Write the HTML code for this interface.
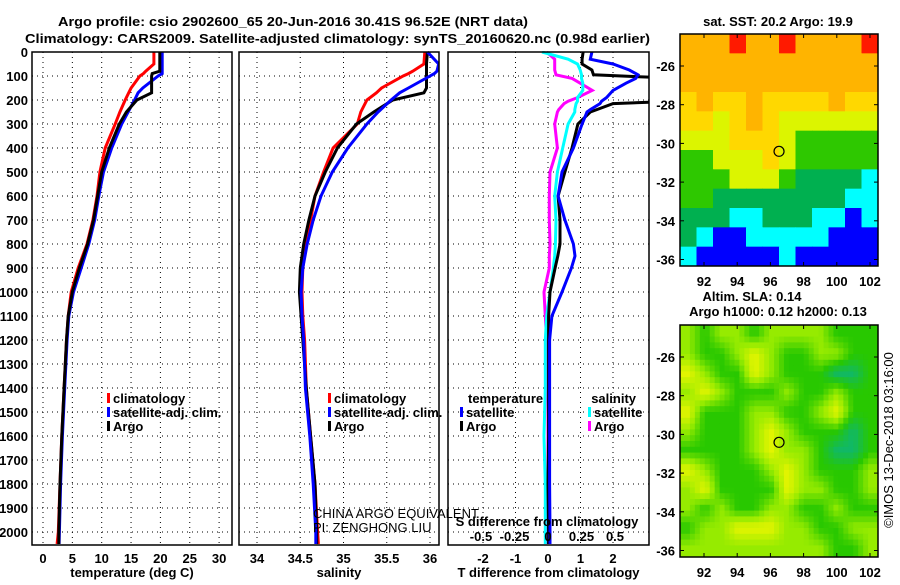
<!DOCTYPE html>
<html><head><meta charset="utf-8"><style>
body{margin:0;background:#fff;width:900px;height:580px;overflow:hidden}
svg text{font-family:"Liberation Sans",Arial,sans-serif;font-weight:bold;font-size:13px;fill:#000}
</style></head><body>
<svg id="s" width="900" height="580" xmlns="http://www.w3.org/2000/svg">
<text x="58" y="26" font-size="15.5" textLength="470" lengthAdjust="spacingAndGlyphs">Argo profile: csio 2902600_65 20-Jun-2016 30.41S 96.52E (NRT data)</text>
<text x="25" y="43" font-size="15.5" textLength="625" lengthAdjust="spacingAndGlyphs">Climatology: CARS2009. Satellite-adjusted climatology: synTS_20160620.nc (0.98d earlier)</text>
<text x="778" y="26" text-anchor="middle" font-size="12.5">sat. SST: 20.2 Argo: 19.9</text>
<text x="752" y="301" text-anchor="middle" font-size="12.5">Altim. SLA: 0.14</text>
<text x="778" y="316" text-anchor="middle" font-size="12.5">Argo h1000: 0.12 h2000: 0.13</text>
<text transform="translate(893,440) rotate(-90)" text-anchor="middle" font-size="12" style="font-weight:normal">©IMOS 13-Dec-2018 03:16:00</text>
</svg>
<script>
// ---- data ----
const depths = [0,50,80,90,100,150,170,200,250,300,400,500,600,700,800,900,1000,1100,1200,1400,1600,1800,2000,2050];
const tempClim = [18.9,18.9,17.5,17.1,16.5,15.0,14.6,14.0,13.1,12.3,10.6,9.7,9.2,8.5,7.5,6.0,4.8,4.3,4.0,3.6,3.2,2.9,2.6,2.4];
const tempSat  = [20.3,20.3,20.3,20.3,19.6,17.0,16.2,15.6,14.5,13.4,11.7,10.3,9.5,8.8,7.8,6.5,5.2,4.4,4.1,3.7,3.3,3.0,2.8,2.75];
const tempArgo = [19.9,19.9,19.9,18.6,18.5,18.5,18.5,16.0,14.2,13.0,11.3,10.0,9.3,8.6,7.6,6.2,5.0,4.3,4.0,3.6,3.2,2.9,2.7,2.7];
const salClim  = [35.94,35.93,35.8,35.75,35.69,35.44,35.38,35.27,35.2,35.16,34.88,34.77,34.67,34.62,34.57,34.53,34.52,34.53,34.55,34.57,34.62,34.67,34.70,34.71];
const salSat   = [35.97,36.1,36.08,36.05,36.0,35.75,35.65,35.55,35.4,35.27,35.05,34.87,34.74,34.65,34.58,34.53,34.51,34.52,34.54,34.56,34.61,34.65,34.68,34.68];
const salArgo  = [35.97,35.96,35.96,35.96,35.96,35.96,35.93,35.57,35.35,35.15,34.93,34.79,34.67,34.60,34.54,34.50,34.49,34.51,34.53,34.57,34.62,34.67,34.69,34.69];
const dDepths = [0,30,50,75,95,110,130,160,190,205,215,240,250,300,400,500,600,700,800,850,900,1000,1100,1200,1400,1600,1800,2000,2050];
const tDiffArgo = [1.08,1.05,1.05,1.35,1.4,4.0,4.0,4.0,4.0,4.0,2.0,1.5,1.3,0.92,0.74,0.52,0.31,0.37,0.37,0.3,0.22,0.06,0.02,0.02,0.02,0.02,0.0,0.02,0.02];
const tDiffSat  = [1.35,1.3,2.0,2.5,2.77,2.7,2.4,2.0,1.8,1.65,1.6,1.3,1.2,1.05,0.78,0.43,0.31,0.52,0.78,0.83,0.72,0.43,0.12,0.05,0.05,0.05,0.05,0.06,0.06];
const sDiffArgo = [-0.01,0.05,0.05,0.05,0.06,0.18,0.24,0.33,0.22,0.15,0.12,0.08,0.07,0.05,0.07,0.015,0.01,0.01,0.015,0.01,0.01,-0.03,-0.02,-0.01,0.0,0.0,0.0,0.0,0.0];
const sDiffSat  = [-0.045,0.15,0.22,0.24,0.25,0.25,0.26,0.26,0.22,0.22,0.21,0.2,0.2,0.15,0.11,0.07,0.05,0.06,0.055,0.05,0.04,0.015,-0.01,-0.02,-0.02,-0.03,-0.02,-0.02,-0.02];
const tTicks = [0,5,10,15,20,25,30];
const sTicks = [34,34.5,35,35.5,36];
const dTicks = [0,100,200,300,400,500,600,700,800,900,1000,1100,1200,1300,1400,1500,1600,1700,1800,1900,2000];
const tdTicks = [-2,-1,0,1,2];
const sdTicks = [-0.5,-0.25,0,0.25,0.5];
const latTicks = [-26,-28,-30,-32,-34,-36];
const lonTicks = [92,94,96,98,100,102];
const argoLon = 96.52, argoLat = -30.41;
const sstGrid = ["OOOROOROOOOR","OOOOOOOOOOOO","OOOOOOOOOOOO","YOYYOYYYYOYY","YYLYOYLLLLLL","LLLYYYLGGGGG","GGLLLYLGGGGG","GGGLLLGDDDDC","GGDDDDDDDDCC","DDDCCDDDCCBC","DCBBCCCCCBBB","CBBBBBCBBBBB"];
const slaGrid = ["LGLLGLLLLGGG","LGGLYLGGLLGG","YLGGYLGGGTTG","LYLGGGLGGLGG","YGGGLLGGLYGG","LGGGLYLGGGTG","GGGGLYLLGTTG","YLGGGLYLGGGL","LYGGGGYLLGGL","LGLGGLLGGLGG","GLLYYYLLGGLL","LLLLLLLLLGGL"];
const sstCol = {R:"#ff1a00",O:"#ffb400",Y:"#ffd800",L:"#dcf500",G:"#2ec800",D:"#00b050",C:"#00ffff",B:"#0000ff"};
const slaLevel = {T:0,G:1,L:2,Y:3};

const NS="http://www.w3.org/2000/svg";
const svg=document.getElementById('s');
function mk(tag,attrs,parent){const e=document.createElementNS(NS,tag);for(const k in attrs)e.setAttribute(k,attrs[k]);(parent||svg).appendChild(e);return e;}
function txt(x,y,t,anchor,parent,size){const e=mk('text',{x:x,y:y,'text-anchor':anchor||'middle'},parent);if(size)e.setAttribute('font-size',size);e.textContent=t;return e;}

const Y0=52, PXM=0.24, YB=545;
const yS=d=>Y0+d*PXM;
const panels=[
 {name:'temperature',x0:32,x1:232,xs:v=>43+(v)*5.87,ticks:tTicks,lab:'temperature (deg C)'},
 {name:'salinity',x0:239,x1:439,xs:v=>257+(v-34)*86.5,ticks:sTicks,lab:'salinity'},
 {name:'difference',x0:448,x1:649,xs:v=>548+v*32.5,ticks:tdTicks,lab:'T difference from climatology'}
];
const sdx=v=>548+v*134;
panels.forEach((p,i)=>{
  const g=mk('g',{});
  
  
  const cp=mk('clipPath',{id:'c'+i},g);mk('rect',{x:p.x0,y:Y0-1,width:p.x1-p.x0,height:YB-Y0+1},cp);
  dTicks.forEach(d=>{const l=mk('line',{x1:p.x0,x2:p.x1,y1:yS(d),y2:yS(d),stroke:'#000','stroke-width':1,'stroke-dasharray':'1,4'},g);
    });
  p.ticks.forEach(t=>{const x=p.xs(t);mk('line',{x1:x,x2:x,y1:Y0,y2:YB,stroke:'#000','stroke-width':1,'stroke-dasharray':'1,4'},g);
    const tl=txt(x,563,String(t),'middle',g);});
  const al=txt((p.x0+p.x1)/2,577,p.lab,'middle',g);
  p.g=g;p.clip='url(#c'+i+')';
});
dTicks.forEach(d=>{const t=txt(28,yS(d)+5,String(d),'end');});

function line(p,xs,xv,dv,col,name){
  const pts=xv.map((v,i)=>xs(v).toFixed(1)+','+yS(dv[i]).toFixed(1)).join(' ');
  const pl=mk('polyline',{points:pts,fill:'none',stroke:col,'stroke-width':3,'clip-path':p.clip},p.g);
  
}
line(panels[0],panels[0].xs,tempClim,depths,'#ff0000','temp-climatology-line');
line(panels[0],panels[0].xs,tempSat,depths,'#0000ff','temp-satellite-line');
line(panels[0],panels[0].xs,tempArgo,depths,'#000','temp-argo-line');
line(panels[1],panels[1].xs,salClim,depths,'#ff0000','sal-climatology-line');
line(panels[1],panels[1].xs,salArgo,depths,'#000','sal-argo-line');
line(panels[1],panels[1].xs,salSat,depths,'#0000ff','sal-satellite-line');
line(panels[2],sdx,sDiffArgo,dDepths,'#ff00ff','sdiff-argo-line');
line(panels[2],sdx,sDiffSat,dDepths,'#00ffff','sdiff-satellite-line');
line(panels[2],panels[2].xs,tDiffArgo,dDepths,'#000','tdiff-argo-line');
line(panels[2],panels[2].xs,tDiffSat,dDepths,'#0000ff','tdiff-satellite-line');

panels.forEach(p=>{const r=mk('rect',{x:p.x0,y:Y0,width:p.x1-p.x0,height:YB-Y0,fill:'none',stroke:'#000','stroke-width':1.5});
  });

txt(547,526,'S difference from climatology');
sdTicks.forEach(t=>{const e=txt(sdx(t),541,String(t));});

function leg(x,y,col,label){
  const g=mk('g',{});
  
  
  mk('rect',{x:x,y:y-10,width:3,height:10,fill:col},g);
  txt(x+6,y,label,'start',g);
}
leg(107,403,'#ff0000','climatology');leg(107,417,'#0000ff','satellite-adj. clim.');leg(107,431,'#000','Argo');
leg(328,403,'#ff0000','climatology');leg(328,417,'#0000ff','satellite-adj. clim.');leg(328,431,'#000','Argo');
txt(468,403,'temperature','start');leg(460,417,'#0000ff','satellite');leg(460,431,'#000','Argo');
txt(636,403,'salinity','end');leg(588,417,'#00ffff','satellite');leg(588,431,'#ff00ff','Argo');
const c1=txt(313,518,'CHINA ARGO EQUIVALENT','start');c1.setAttribute('style','font-weight:normal');c1.setAttribute('font-size','12');
const c2=txt(313,532,'PI: ZENGHONG LIU','start');c2.setAttribute('style','font-weight:normal');c2.setAttribute('font-size','12');

function slaColor(v){
  const stops=[[0,[16,184,104]],[1,[40,200,0]],[2,[150,235,0]],[3,[230,245,0]],[3.6,[255,220,0]]];
  v=Math.max(0,Math.min(3.6,v));
  for(let i=0;i<stops.length-1;i++){const a=stops[i],b=stops[i+1];if(v<=b[0]){const f=(v-a[0])/(b[0]-a[0]);
    const c=a[1].map((x,k)=>Math.round(x+(b[1][k]-x)*f));return 'rgb('+c.join(',')+')';}}
  return 'rgb(255,220,0)';
}
function map(top,bot,name,cellFn,nc,nr){
  const L=680,R=878,lonS=v=>704+(v-92)*16.6;
  const latS=v=>top+32+(-26-v)*19.35*((bot-top)/232);
  const g=mk('g',{});
  
  
  const cw=(R-L)/nc,ch=(bot-top)/nr;
  for(let r=0;r<nr;r++)for(let c=0;c<nc;c++)mk('rect',{x:L+c*cw,y:top+r*ch,width:cw+0.5,height:ch+0.5,fill:cellFn(r,c,nr,nc)},g);
  mk('rect',{x:L,y:top,width:R-L,height:bot-top,fill:'none',stroke:'#000','stroke-width':1.5},g);
  latTicks.forEach(t=>{const y=latS(t);mk('line',{x1:L,x2:L+4,y1:y,y2:y,stroke:'#000'},g);mk('line',{x1:R,x2:R-4,y1:y,y2:y,stroke:'#000'},g);
    const e=txt(675,y+5,String(t),'end',g);e.setAttribute('font-size','12');});
  lonTicks.forEach(t=>{const x=lonS(t);mk('line',{x1:x,x2:x,y1:bot,y2:bot-4,stroke:'#000'},g);mk('line',{x1:x,x2:x,y1:top,y2:top+4,stroke:'#000'},g);
    const e=txt(x,bot+20,String(t),'middle',g);e.setAttribute('font-size','12');});
  const m=mk('circle',{cx:lonS(argoLon),cy:latS(argoLat),r:5,fill:'none',stroke:'#000','stroke-width':1.2},g);
  
}
map(34,266,'sst-map',(r,c)=>sstCol[sstGrid[r][c]],12,12);
map(325,557,'sla-map',(r,c,nr,nc)=>{
  const gy=(r+0.5)/nr*12-0.5, gx=(c+0.5)/nc*12-0.5;
  const y0=Math.max(0,Math.min(11,Math.floor(gy))),x0=Math.max(0,Math.min(11,Math.floor(gx)));
  const y1=Math.min(11,y0+1),x1=Math.min(11,x0+1);
  const fy=Math.max(0,Math.min(1,gy-y0)),fx=Math.max(0,Math.min(1,gx-x0));
  const v=k=>slaLevel[k];
  const a=v(slaGrid[y0][x0])*(1-fx)+v(slaGrid[y0][x1])*fx;
  const b=v(slaGrid[y1][x0])*(1-fx)+v(slaGrid[y1][x1])*fx;
  return slaColor(a*(1-fy)+b*fy);
},40,40);
</script>
</body></html>
